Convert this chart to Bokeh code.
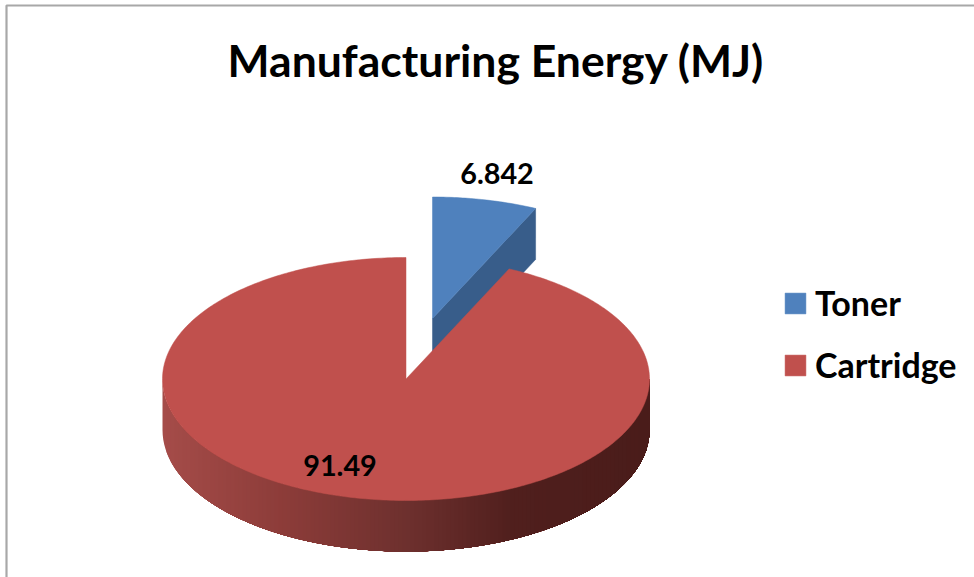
import numpy as np
from bokeh.plotting import figure
from bokeh.models import Range1d, Legend, LegendItem
from bokeh.core.properties import value
from bokeh.embed import file_html
from bokeh.resources import INLINE

title_text = "Manufacturing Energy (MJ)"
categories = ["Toner", "Cartridge"]
energy = [6.842, 91.49]
value_labels = ["6.842", "91.49"]
colors = ["#4F81BD", "#C0504D"]
toner_wall = "#385D8A"

FONT = value("Lato")
cx, cy, rx, ry, depth = 405.5, 378.5, 243.5, 121.5, 51.0
dx, dy = 26.5, -60.5   # explosion of the Toner slice

toner_sweep = 2 * np.pi * energy[0] / sum(energy)


def rim(theta, ox=0.0, oy=0.0):
    return cx + ox + rx * np.sin(theta), cy + oy - ry * np.cos(theta)


p = figure(width=974, height=577, x_range=Range1d(0, 974), y_range=Range1d(577, 0),
           output_backend="svg", toolbar_location=None, min_border=0,
           background_fill_color="white", border_fill_color="white", outline_line_color=None)
p.axis.visible = False
p.grid.visible = False

# chart frame
p.line([6, 6, 974], [577, 5, 5], line_color="#A8A8A8", line_width=2.2)

# Toner slice: cut wall, then top
ex, ey = rim(toner_sweep, dx, dy)
ax, ay = cx + dx, cy + dy
p.patch([ax, ex, ex, ax], [ay, ey, ey + depth, ay + depth], fill_color=toner_wall, line_color=toner_wall, line_width=0.5)
t = np.linspace(0, toner_sweep, 40)
bx, by = rim(t, dx, dy)
toner = p.patch(np.r_[ax, bx], np.r_[ay, by], fill_color=colors[0], line_color=colors[0], line_width=0.5)

# Cartridge outer wall, shaded from left to right; each band runs on to the
# right end so that the later bands overlap it and no seams show
stops_pos = [0.0, 0.25, 0.5, 0.72, 1.0]
stops_rgb = np.array([[165, 76, 73], [140, 60, 57], [110, 48, 46], [80, 31, 29], [74, 28, 26]], float)
edges = np.arange(-rx, rx, 4.0)
xs, ys, fills = [], [], []
for a in edges:
    phi = np.linspace(np.arccos(np.clip(a / rx, -1, 1)), 0, 80)
    xx = rx * np.cos(phi)
    yy = cy + ry * np.sin(phi)
    xs.append(np.r_[cx + xx, cx + xx[::-1]])
    ys.append(np.r_[yy, yy[::-1] + depth])
    f = (a + 2 + rx) / (2 * rx)
    c = [int(round(np.interp(f, stops_pos, stops_rgb[:, i]))) for i in range(3)]
    fills.append("#%02X%02X%02X" % tuple(c))
p.patches(xs, ys, fill_color=fills, line_color=None)

# Cartridge top
t = np.linspace(toner_sweep, 2 * np.pi, 400)
bx, by = rim(t)
cart = p.patch(np.r_[cx, bx], np.r_[cy, by], fill_color=colors[1], line_color=colors[1], line_width=0.5)

# Title and value labels
p.text([495.5], [58.5], text=[title_text], text_font=FONT, text_font_style="bold", text_font_size="44.5px",
       text_color="black", text_align="center", text_baseline="middle")
p.text([496.5, 339.5], [173, 465], text=value_labels, text_font=FONT, text_font_style="bold",
       text_font_size="28.8px", text_color="black", text_align="center", text_baseline="middle")

legend = Legend(items=[LegendItem(label=categories[0], renderers=[toner]),
                       LegendItem(label=categories[1], renderers=[cart])],
                location=(782, 192), orientation="vertical", padding=0, margin=0, spacing=21,
                glyph_width=26, glyph_height=26, label_standoff=7, label_height=26,
                label_text_font="Lato", label_text_font_style="bold", label_text_font_size="34px",
                label_text_color="black", border_line_color=None, background_fill_alpha=0)
p.add_layout(legend)

open("out.html", "w").write(file_html(p, INLINE))
